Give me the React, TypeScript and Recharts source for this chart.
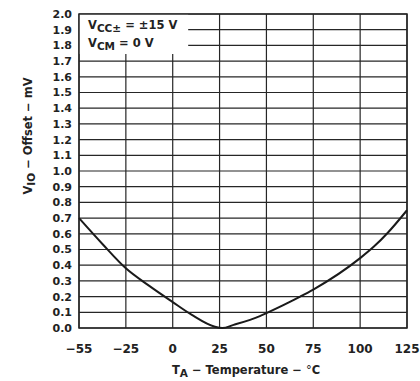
import { LineChart, Line, XAxis, YAxis, CartesianGrid, ReferenceArea } from "recharts";

const tempTicks = [-55, -25, 0, 25, 50, 75, 100, 125];
const yTicks = [0, 0.1, 0.2, 0.3, 0.4, 0.5, 0.6, 0.7, 0.8, 0.9, 1.0, 1.1, 1.2, 1.3, 1.4, 1.5, 1.6, 1.7, 1.8, 1.9, 2.0];

// T_A in °C and V_IO in mV
const curveTemps = [-55, -40, -25, -12.5, 0, 10, 22.5, 26.5, 32.5, 46.5, 50, 68, 75, 100, 107.5, 115, 125];
const curveOffset = [0.7, 0.535, 0.38, 0.268, 0.165, 0.085, 0.008, 0, 0.02, 0.076, 0.095, 0.2, 0.245, 0.445, 0.52, 0.61, 0.75];

const FONT = "'DejaVu Sans', sans-serif";
const INK = "#222";

// the temperature axis spaces its ticks evenly, not linearly in °C
function tempToPos(t: number) {
  for (let i = 0; i < tempTicks.length - 1; i++) {
    if (t <= tempTicks[i + 1]) {
      return i + (t - tempTicks[i]) / (tempTicks[i + 1] - tempTicks[i]);
    }
  }
  return tempTicks.length - 1;
}

const data = curveTemps.map((t, i) => ({ pos: tempToPos(t), offset: curveOffset[i] }));
const xTickPos = tempTicks.map((_, i) => i);
const lastPos = tempTicks.length - 1;

const fmtTemp = (i: number) => {
  const t = tempTicks[i];
  return t < 0 ? `\u2212${Math.abs(t)}` : String(t);
};

export default function App() {
  return (
    <div style={{ position: "absolute", left: 0, top: 0, width: 420, height: 381, background: "#fff", fontFamily: FONT }}>
      <LineChart width={420} height={381} data={data} margin={{ top: 14, right: 13, bottom: 0, left: 0 }}>
        <CartesianGrid stroke="#262626" strokeWidth={1.2} />
        <XAxis
          dataKey="pos"
          type="number"
          domain={[0, lastPos]}
          ticks={xTickPos}
          tickFormatter={fmtTemp}
          height={53}
          axisLine={false}
          tickLine={false}
          tickSize={0}
          tickMargin={16}
          tick={{ fontSize: 12, fontWeight: "bold", fill: INK, fontFamily: FONT }}
        />
        <YAxis
          type="number"
          domain={[0, 2]}
          ticks={yTicks}
          tickFormatter={(v: number) => v.toFixed(1)}
          width={79}
          axisLine={false}
          tickLine={false}
          tickSize={0}
          tickMargin={7}
          interval={0}
          tick={{ fontSize: 11, fontWeight: "bold", fill: INK, fontFamily: FONT }}
        />
        {/* white box behind the conditions text */}
        <ReferenceArea x1={0} x2={2.33} y1={1.745} y2={2} fill="#fff" fillOpacity={1} stroke="none" ifOverflow="visible" />
        <ReferenceArea x1={0} x2={lastPos} y1={0} y2={2} fill="none" stroke="#262626" strokeWidth={1.5} ifOverflow="visible" />
        <Line
          type="monotone"
          dataKey="offset"
          stroke="#1a1a1a"
          strokeWidth={2}
          dot={false}
          isAnimationActive={false}
        />
      </LineChart>

      <div style={{ position: "absolute", left: 88, top: 18, fontSize: 11.5, lineHeight: "14px", fontWeight: "bold", color: INK, whiteSpace: "nowrap" }}>
        V<span style={{ fontSize: 10.5, position: "relative", top: 2.5 }}>CC±</span> = ±15 V
      </div>
      <div style={{ position: "absolute", left: 88, top: 36, fontSize: 11.5, lineHeight: "14px", fontWeight: "bold", color: INK, whiteSpace: "nowrap" }}>
        V<span style={{ fontSize: 10.5, position: "relative", top: 2.5 }}>CM</span> = 0 V
      </div>

      <div
        style={{
          position: "absolute",
          left: 28 - 100,
          top: 136 - 8,
          width: 200,
          height: 16,
          lineHeight: "16px",
          textAlign: "center",
          transform: "rotate(-90deg)",
          fontSize: 11.5,
          fontWeight: "bold",
          color: INK,
          whiteSpace: "nowrap",
        }}
      >
        V<span style={{ fontSize: 10.5, position: "relative", top: 2.5 }}>IO</span> − Offset − mV
      </div>

      <div
        style={{
          position: "absolute",
          left: 246 - 120,
          top: 362,
          width: 240,
          lineHeight: "16px",
          textAlign: "center",
          fontSize: 11.5,
          fontWeight: "bold",
          color: INK,
          whiteSpace: "nowrap",
        }}
      >
        T<span style={{ fontSize: 10.5, position: "relative", top: 2.5 }}>A</span> − Temperature − <span style={{ fontWeight: "normal" }}>°</span>C
      </div>
    </div>
  );
}
